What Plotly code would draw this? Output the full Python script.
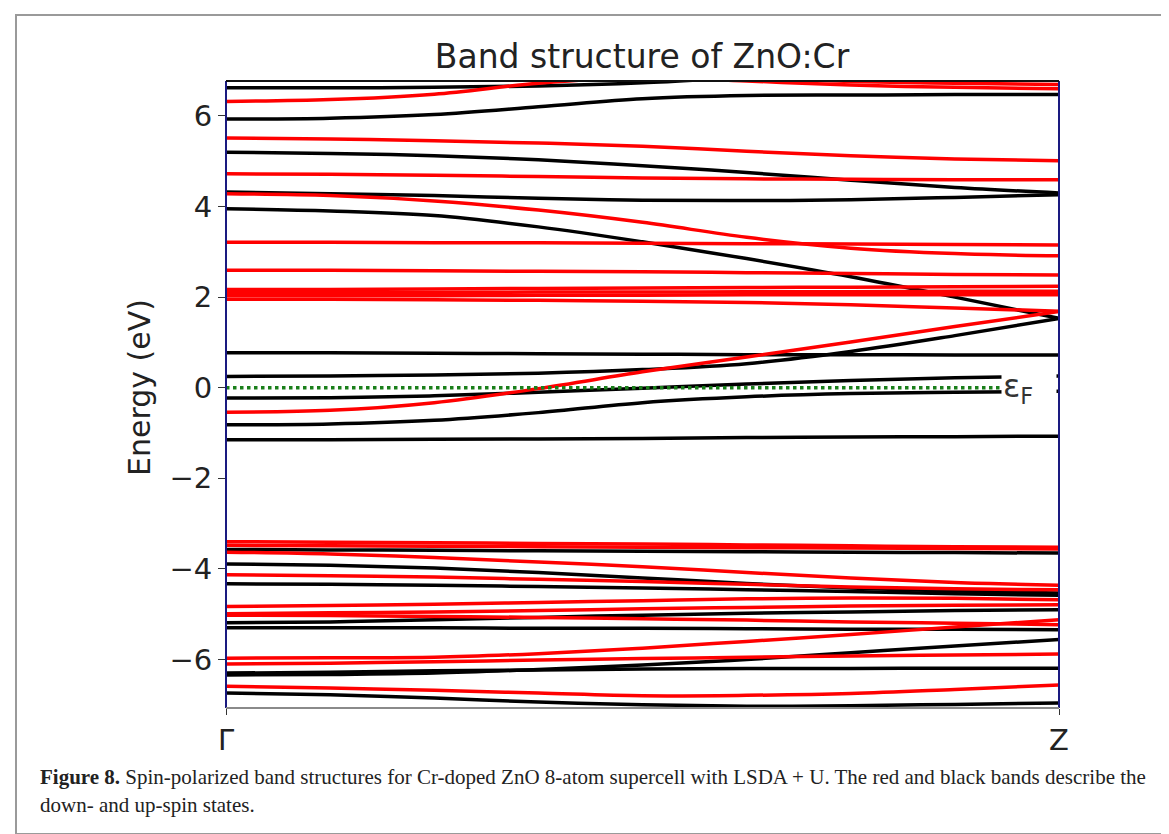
import plotly.graph_objects as go

# k-path positions (fraction of the Γ→Z path) at which band energies were read
K = [0.0, 0.125, 0.25, 0.375, 0.5, 0.625, 0.75, 0.875, 1.0]
K_TICKS = [0.0, 1.0]
K_LABELS = ["Γ", "Z"]
E_TICKS = [-6, -4, -2, 0, 2, 4, 6]
E_LABELS = ["−6", "−4", "−2", "0", "2", "4", "6"]
E_RANGE = [-7.07, 6.77]
FERMI = 0.0

# up-spin bands (black), energies in eV
up_bands = [
    [6.62, 6.62, 6.63, 6.66, 6.73, 6.85, 6.95, 7.00, 7.02],
    [5.93, 5.95, 6.03, 6.20, 6.38, 6.45, 6.46, 6.47, 6.47],
    [5.20, 5.17, 5.12, 5.03, 4.90, 4.75, 4.58, 4.42, 4.30],
    [4.32, 4.28, 4.24, 4.18, 4.14, 4.13, 4.15, 4.20, 4.26],
    [3.95, 3.90, 3.80, 3.55, 3.22, 2.85, 2.45, 2.00, 1.53],
    [0.77, 0.77, 0.76, 0.75, 0.74, 0.73, 0.73, 0.72, 0.72],
    [0.25, 0.26, 0.28, 0.32, 0.40, 0.53, 0.80, 1.15, 1.53],
    [-0.23, -0.22, -0.18, -0.10, -0.01, 0.08, 0.16, 0.22, 0.26],
    [-0.82, -0.80, -0.72, -0.55, -0.33, -0.20, -0.13, -0.10, -0.08],
    [-1.15, -1.15, -1.14, -1.13, -1.12, -1.10, -1.09, -1.08, -1.07],
    [-3.57, -3.58, -3.59, -3.60, -3.61, -3.62, -3.63, -3.64, -3.65],
    [-3.89, -3.92, -3.98, -4.08, -4.20, -4.32, -4.42, -4.49, -4.53],
    [-4.33, -4.34, -4.36, -4.39, -4.42, -4.46, -4.50, -4.55, -4.58],
    [-5.19, -5.17, -5.12, -5.07, -5.02, -4.98, -4.95, -4.92, -4.90],
    [-5.30, -5.30, -5.30, -5.31, -5.31, -5.32, -5.33, -5.33, -5.34],
    [-6.34, -6.33, -6.30, -6.22, -6.12, -6.00, -5.85, -5.70, -5.56],
    [-6.30, -6.28, -6.25, -6.23, -6.21, -6.20, -6.20, -6.19, -6.19],
    [-6.74, -6.78, -6.85, -6.94, -7.00, -7.03, -7.02, -6.99, -6.96],
]

# down-spin bands (red), energies in eV
down_bands = [
    [6.32, 6.36, 6.48, 6.72, 6.85, 6.77, 6.68, 6.63, 6.60],
    [7.20, 7.15, 7.10, 7.00, 6.92, 6.84, 6.76, 6.72, 6.69],
    [5.51, 5.49, 5.45, 5.40, 5.33, 5.22, 5.12, 5.05, 5.01],
    [4.72, 4.71, 4.69, 4.66, 4.63, 4.61, 4.60, 4.59, 4.59],
    [4.28, 4.24, 4.12, 3.92, 3.65, 3.32, 3.08, 2.96, 2.91],
    [3.21, 3.21, 3.20, 3.20, 3.19, 3.18, 3.17, 3.16, 3.15],
    [2.59, 2.59, 2.58, 2.57, 2.56, 2.54, 2.52, 2.50, 2.49],
    [2.17, 2.17, 2.18, 2.19, 2.20, 2.21, 2.22, 2.23, 2.24],
    [2.10, 2.10, 2.10, 2.11, 2.11, 2.12, 2.12, 2.13, 2.13],
    [2.03, 2.03, 2.03, 2.04, 2.04, 2.05, 2.05, 2.05, 2.05],
    [1.95, 1.95, 1.94, 1.93, 1.91, 1.88, 1.83, 1.76, 1.69],
    [-0.54, -0.50, -0.33, -0.02, 0.35, 0.68, 1.01, 1.35, 1.68],
    [-3.40, -3.41, -3.42, -3.44, -3.45, -3.47, -3.49, -3.51, -3.52],
    [-3.48, -3.49, -3.50, -3.51, -3.52, -3.53, -3.54, -3.55, -3.56],
    [-3.63, -3.67, -3.75, -3.85, -3.95, -4.08, -4.20, -4.30, -4.36],
    [-4.13, -4.15, -4.18, -4.23, -4.28, -4.34, -4.40, -4.44, -4.46],
    [-4.83, -4.81, -4.78, -4.74, -4.70, -4.66, -4.64, -4.65, -4.68],
    [-4.99, -4.97, -4.95, -4.92, -4.88, -4.85, -4.82, -4.80, -4.79],
    [-5.02, -5.03, -5.05, -5.07, -5.10, -5.13, -5.17, -5.20, -5.23],
    [-5.97, -5.96, -5.95, -5.87, -5.75, -5.60, -5.45, -5.28, -5.12],
    [-6.10, -6.08, -6.05, -6.01, -5.98, -5.95, -5.92, -5.90, -5.88],
    [-6.59, -6.63, -6.68, -6.74, -6.80, -6.79, -6.75, -6.66, -6.56],
]

fig = go.Figure()

for band in up_bands:
    fig.add_trace(go.Scatter(x=K, y=band, mode="lines", line_shape="spline",
                             line=dict(color="#000000", width=3.5),
                             showlegend=False, hoverinfo="skip"))
for band in down_bands:
    fig.add_trace(go.Scatter(x=K, y=band, mode="lines", line_shape="spline",
                             line=dict(color="#ff0000", width=3.5),
                             showlegend=False, hoverinfo="skip"))

# Fermi level
fig.add_trace(go.Scatter(x=[K[0], K[-1]], y=[FERMI, FERMI], mode="lines",
                         line=dict(color="#1a7f1a", width=3.5, dash="dot"),
                         showlegend=False, hoverinfo="skip"))

L, R, T, B = 218, 118, 73, 134
W, H = 1169, 834
pw, ph = W - L - R, H - T - B

def px(x):
    return (x - L) / pw

def py(y):
    return (H - B - y) / ph

fig.update_layout(
    width=W, height=H,
    margin=dict(l=L, r=R, t=T, b=B),
    paper_bgcolor="white", plot_bgcolor="white",
    font=dict(family="DejaVu Sans", color="#222222"),
    title=dict(text="Band structure of ZnO:Cr", x=px(634), xref="paper",
               xanchor="center", y=1 - 48 / H, yanchor="middle",
               font=dict(size=33, family="DejaVu Sans", color="#222222")),
    xaxis=dict(range=[0, 1], tickvals=K_TICKS, ticktext=K_LABELS,
               showgrid=False, zeroline=False, showline=False,
               ticks="outside", ticklen=6, tickcolor="#333",
               tickfont=dict(size=29, family="DejaVu Sans", color="#222")),
    yaxis=dict(range=E_RANGE, tickvals=E_TICKS, ticktext=E_LABELS,
               showgrid=False, zeroline=False, showline=False,
               ticks="outside", ticklen=7, tickcolor="#333",
               tickfont=dict(size=29, family="DejaVu Sans", color="#222")),
    shapes=[
        # spines
        dict(type="line", xref="paper", yref="paper", x0=0, x1=0, y0=0, y1=1,
             line=dict(color="#1a1a80", width=2), layer="above"),
        dict(type="line", xref="paper", yref="paper", x0=1, x1=1, y0=0, y1=1,
             line=dict(color="#1a1a80", width=2), layer="above"),
        dict(type="line", xref="paper", yref="paper", x0=0, x1=1, y0=1, y1=1,
             line=dict(color="#111111", width=2), layer="above"),
        dict(type="line", xref="paper", yref="paper", x0=0, x1=1, y0=0, y1=0,
             line=dict(color="#8a8a8a", width=2), layer="above"),
        # outer figure frame
        dict(type="rect", xref="paper", yref="paper",
             x0=px(8), x1=px(1161), y0=py(826), y1=py(7),
             line=dict(color="#9a9a9a", width=2), fillcolor="rgba(0,0,0,0)",
             layer="below"),
    ],
    annotations=[
        dict(text="Energy (eV)", xref="paper", yref="paper", x=px(131), y=py(380),
             textangle=-90, showarrow=False, xanchor="center", yanchor="middle",
             font=dict(size=30, family="DejaVu Sans", color="#222")),
        dict(text="ε<sub>F</sub>", xref="paper", yref="y", x=px(993), y=FERMI,
             xanchor="left", yanchor="middle", showarrow=False,
             bgcolor="white", width=52, height=44, align="left",
             font=dict(size=32, family="DejaVu Sans", color="#333")),
        dict(text="<b>Figure 8.</b> Spin-polarized band structures for Cr-doped ZnO 8-atom supercell with LSDA + U. The red and black bands describe the",
             xref="paper", yref="paper", x=px(30), y=py(769), xanchor="left",
             yanchor="middle", showarrow=False, align="left",
             font=dict(size=21, family="Liberation Serif", color="#222")),
        dict(text="down- and up-spin states.",
             xref="paper", yref="paper", x=px(30), y=py(797), xanchor="left",
             yanchor="middle", showarrow=False, align="left",
             font=dict(size=21, family="Liberation Serif", color="#222")),
    ],
)

fig.write_html("out.html")
